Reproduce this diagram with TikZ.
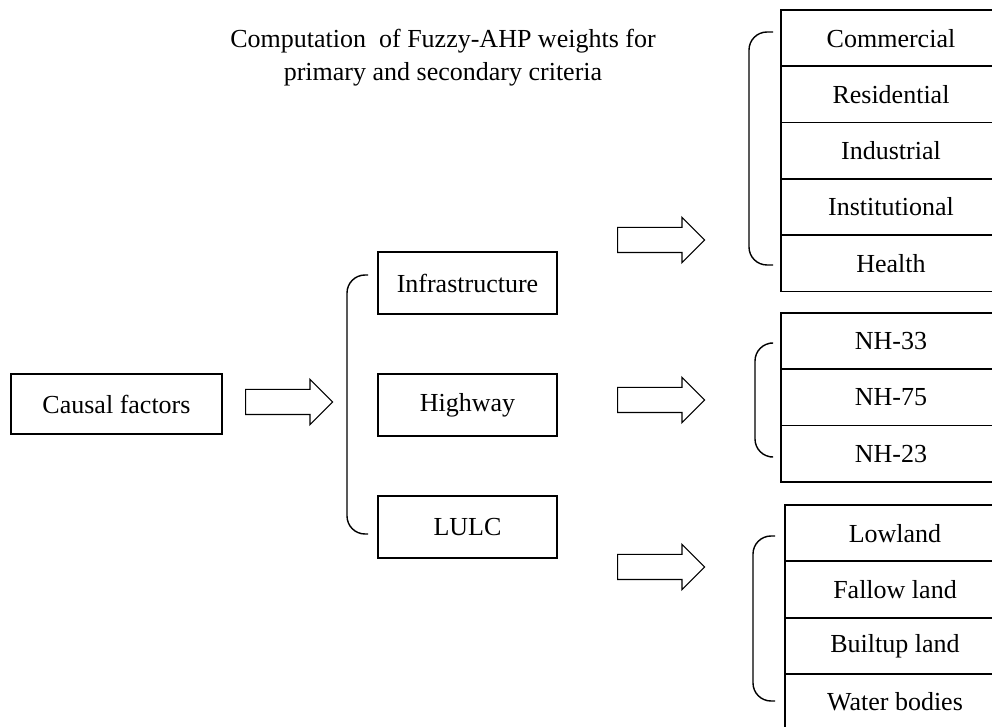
\documentclass[tikz,border=0pt]{standalone}
\usepackage{fontspec}
\setmainfont{Liberation Serif}
\usetikzlibrary{positioning, shapes.arrows}
\tikzset{
    % Boxes
    factor/.style={ rectangle, draw=black, line width=0.9pt, minimum width=89.5pt, minimum height=31pt, inner sep=0pt, outer sep=0pt, font=\fontsize{13}{16}\selectfont },
    subfactor/.style={ factor, minimum width=110pt, minimum height=28.15pt },
    % Block arrow
    blockarrow/.style={ single arrow, draw=black, line width=0.6pt, inner xsep=0pt, inner ysep=6pt, minimum height=43.5pt, single arrow head extend=5pt, anchor=tail },
    % Bracket
    bracket/.style={ draw=black, line width=0.7pt, rounded corners=9pt },
}

\begin{document}
\begin{tikzpicture}[x=0.5pt, y=-0.5pt]
    \useasboundingbox (0,0) rectangle (992,727);

    % Title
    \node[font=\fontsize{13}{16.5}\selectfont, align=center, inner sep=0pt] (title) at (443,58) {Computation~ of Fuzzy-AHP weights for\\primary and secondary criteria};

    % Causal factors
    \node[factor, minimum width=105.5pt, minimum height=30pt, anchor=north west] (causal) at (11,374) {Causal factors};
    \node[blockarrow] (arr-causal) at (245,402) {};
    \draw[bracket] (368,275) -| (347,534) -- (368,534);

    % Primary criteria
    \node[factor, anchor=north west] (infra) at (378,252) {Infrastructure};
    \node[factor, below=30pt of infra] (hw) {Highway};
    \node[factor, below=30pt of hw] (lulc) {LULC};

    \node[blockarrow] (arr-infra) at (617,240) {};
    \node[blockarrow] (arr-hw) at (617,400) {};
    \node[blockarrow] (arr-lulc) at (617,567) {};

    % Infrastructure
    \draw[bracket] (773,32) -| (749,265) -- (773,265);
    \node[subfactor, anchor=north west] (com) at (781,10) {Commercial};
    \node[subfactor, below=0pt of com] (res) {Residential};
    \node[subfactor, below=0pt of res] (ind) {Industrial};
    \node[subfactor, below=0pt of ind] (inst) {Institutional};
    \node[subfactor, below=0pt of inst] (hlth) {Health};

    % Highway
    \draw[bracket] (770,343) -| (755,457) -- (770,457);
    \node[subfactor, anchor=north west] (nh33) at (781,313) {NH-33};
    \node[subfactor, below=0pt of nh33] (nh75) {NH-75};
    \node[subfactor, below=0pt of nh75] (nh23) {NH-23};

    % LULC
    \draw[bracket] (775,536) -| (753,701) -- (775,701);
    \node[subfactor, anchor=north west] (low) at (785,505) {Lowland};
    \node[subfactor, below=0pt of low] (fallow) {Fallow land};
    \node[subfactor, below=0pt of fallow] (built) {Builtup land};
    \node[subfactor, below=0pt of built] (water) {Water bodies};
\end{tikzpicture}
\end{document}
